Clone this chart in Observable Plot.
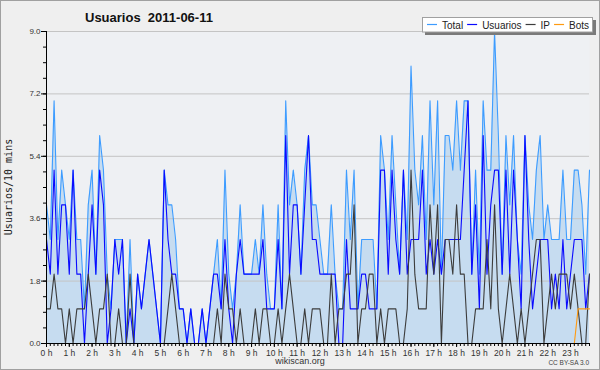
<!DOCTYPE html>
<html><head><meta charset="utf-8">
<script src="https://cdn.jsdelivr.net/npm/d3@7"></script>
<script src="https://cdn.jsdelivr.net/npm/@observablehq/plot@0.6"></script>
<style>
body{margin:0;background:#efefef;}
#wrap{position:relative;width:600px;height:370px;background:#efefef;overflow:hidden;}
#border{position:absolute;left:0;top:0;width:598px;height:368px;border:1px solid #a0a0a0;pointer-events:none;}
</style></head>
<body><div id="wrap"><div id="border"></div></div>
<script>
const TITLE = "Usuarios  2011-06-11";
const Y_TITLE = "Usuarios/10 mins";
const X_TITLE = "wikiscan.org";
const CREDIT = "CC BY-SA 3.0";
const seriesNames = ["Total", "Usuarios", "IP", "Bots"];
const seriesColors = ["#3d9cff", "#0a0aff", "#3c3c3c", "#ff9a10"];
const hourLabels = ["0 h","1 h","2 h","3 h","4 h","5 h","6 h","7 h","8 h","9 h","10 h","11 h","12 h","13 h","14 h","15 h","16 h","17 h","18 h","19 h","20 h","21 h","22 h","23 h"];
const yTickValues = [0, 1.8, 3.6, 5.4, 7.2, 9.0];

// one value per 10 minutes, 00:00 .. 23:50
const total = [4,3,7,3,5,4,3,5,3,3,1,4,5,2,6,5,2,1,3,3,3,0,3,0,2,1,2,3,2,1,0,5,4,4,3,1,1,0,1,0,0,1,0,1,2,3,1,5,2,1,2,4,2,2,2,3,2,4,2,1,1,4,1,7,4,5,4,2,5,6,4,4,3,2,2,4,2,1,1,5,3,5,1,3,3,3,3,1,6,5,3,6,4,2,5,3,8,5,4,6,3,7,4,7,2,6,6,5,7,5,7,7,2,5,2,7,5,5,9,6,2,6,4,6,3,2,6,4,3,5,6,3,4,3,3,3,5,3,3,5,5,4,2,5];
const usuarios = [3,2,5,2,4,4,2,5,2,2,0,2,4,2,5,4,0,1,3,2,3,0,1,0,2,1,2,3,2,1,0,5,3,2,2,1,1,0,1,0,0,1,0,1,2,2,1,3,1,0,2,3,2,2,2,2,2,3,1,1,1,3,1,6,2,4,4,2,4,6,3,3,2,2,2,2,2,0,0,3,1,1,1,2,2,1,1,1,5,5,2,5,3,2,5,2,3,3,3,5,2,3,2,3,2,3,3,3,3,3,5,7,2,4,1,6,2,4,5,5,2,5,2,5,3,1,6,3,1,2,3,3,3,1,2,1,3,1,2,3,3,3,1,2];
const ip = [1,1,2,1,1,0,1,0,1,1,1,2,1,0,1,1,2,0,0,1,0,0,2,0,0,0,0,0,0,0,0,0,1,2,1,0,0,0,0,0,0,0,0,0,0,1,0,2,1,1,0,1,0,0,0,1,0,1,1,0,0,1,0,1,2,1,0,0,1,0,1,1,1,0,0,2,0,1,1,2,2,4,0,1,1,2,2,0,1,0,1,1,1,0,0,1,5,2,1,1,1,4,2,4,0,3,3,2,4,2,2,0,0,1,1,1,3,1,4,1,0,1,2,1,0,1,0,1,2,3,3,0,1,2,1,2,2,2,1,2,1,0,0,2];
const bots = [0,0,0,0,0,0,0,0,0,0,0,0,0,0,0,0,0,0,0,0,0,0,0,0,0,0,0,0,0,0,0,0,0,0,0,0,0,0,0,0,0,0,0,0,0,0,0,0,0,0,0,0,0,0,0,0,0,0,0,0,0,0,0,0,0,0,0,0,0,0,0,0,0,0,0,0,0,0,0,0,0,0,0,0,0,0,0,0,0,0,0,0,0,0,0,0,0,0,0,0,0,0,0,0,0,0,0,0,0,0,0,0,0,0,0,0,0,0,0,0,0,0,0,0,0,0,0,0,0,0,0,0,0,0,0,0,0,0,0,0,1,1,1,1];

const rows = total.map((t, i) => ({i, total: t, usuarios: usuarios[i], ip: ip[i], bots: bots[i]}));
const hourTicks = hourLabels.map((_, h) => h * 6);
const minorX = d3.range(0, total.length);
const minorY = d3.range(0, 21).map(k => k * 0.45);
const FONT = "Liberation Sans, Arial, sans-serif";

const chart = Plot.plot({
  width: 600, height: 370,
  marginLeft: 46, marginRight: 11, marginTop: 31, marginBottom: 27,
  style: {background: "transparent", fontFamily: FONT, color: "#333", overflow: "visible"},
  x: {domain: [0, total.length - 1], axis: null, label: null},
  y: {domain: [0, 9], axis: null, label: null},
  marks: [
    Plot.frame({fill: "#eef0f3", stroke: null}),
    Plot.areaY(rows, {x: "i", y: "total", fill: "#c6dcf0"}),
    Plot.gridY(yTickValues, {stroke: "#c4c4c4", strokeOpacity: 1}),
    Plot.lineY(rows, {x: "i", y: "total", stroke: seriesColors[0], strokeWidth: 1.1}),
    Plot.lineY(rows, {x: "i", y: "usuarios", stroke: seriesColors[1], strokeWidth: 1.1}),
    Plot.lineY(rows, {x: "i", y: "ip", stroke: seriesColors[2], strokeWidth: 1.1}),
    Plot.lineY(rows, {x: "i", y: "bots", stroke: seriesColors[3], strokeWidth: 1.1}),
    Plot.ruleX([0], {stroke: "#000"}),
    Plot.ruleY([0], {stroke: "#000"}),
    Plot.axisY(minorY, {tickSize: 3, tickFormat: () => "", stroke: "#000", label: null}),
    Plot.axisY(yTickValues, {tickSize: 5, tickPadding: 1, tickFormat: d => d.toFixed(1), fontSize: 8, stroke: "#000", fill: "#333", label: null}),
    Plot.axisX(minorX, {tickSize: 3, tickFormat: () => "", stroke: "#000", label: null}),
    Plot.axisX(hourTicks, {tickSize: 4, tickPadding: 2, tickFormat: d => hourLabels[d / 6], fontSize: 8.5, stroke: "#000", fill: "#333", label: null})
  ]
});
document.getElementById("wrap").appendChild(chart);

const svg = d3.select(chart);
svg.append("text").attr("x", 85).attr("y", 22).attr("text-anchor", "start")
  .attr("font-family", FONT).attr("font-weight", "bold").attr("font-size", 13)
  .attr("fill", "#111").style("white-space", "pre").text(TITLE);
svg.append("text").attr("transform", "translate(12,187) rotate(-90)")
  .attr("text-anchor", "middle").attr("font-family", "DejaVu Sans Mono, monospace")
  .attr("font-size", 10).attr("fill", "#222").text(Y_TITLE);
svg.append("text").attr("x", 300).attr("y", 364).attr("text-anchor", "middle")
  .attr("font-family", FONT).attr("font-size", 9).attr("fill", "#333").text(X_TITLE);
svg.append("text").attr("x", 589).attr("y", 365).attr("text-anchor", "end")
  .attr("font-family", FONT).attr("font-size", 6.5).attr("fill", "#444").text(CREDIT);

// legend
const lg = svg.append("g");
lg.append("rect").attr("x", 425).attr("y", 20).attr("width", 171).attr("height", 15).attr("fill", "#7a7a7a");
lg.append("rect").attr("x", 422.5).attr("y", 17.5).attr("width", 170).attr("height", 14.5).attr("fill", "#fff").attr("stroke", "#a0a0a0");
let lx = 427;
seriesNames.forEach((name, k) => {
  lg.append("line").attr("x1", lx).attr("x2", lx + 10).attr("y1", 24.5).attr("y2", 24.5)
    .attr("stroke", seriesColors[k]).attr("stroke-width", 1.2);
  const t = lg.append("text").attr("x", lx + 15).attr("y", 28.5).attr("text-anchor", "start")
    .attr("font-family", FONT).attr("font-size", 10).attr("fill", "#222").text(name);
  lx += 15 + t.node().getComputedTextLength() + 4;
});
</script>
</body></html>
